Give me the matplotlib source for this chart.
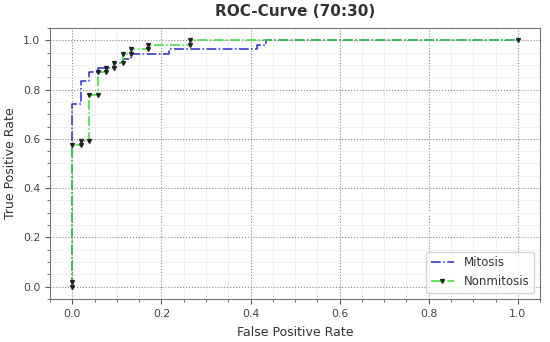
import matplotlib
matplotlib.use("Agg")
import matplotlib.pyplot as plt

# Mitosis ROC points
fpr_mit = [0, 0, 0.019, 0.019, 0.038, 0.038, 0.057, 0.057, 0.094, 0.094, 0.113, 0.113,
           0.132, 0.132, 0.217, 0.217, 0.415, 0.415, 0.434, 0.434, 1.0]
tpr_mit = [0, 0.741, 0.741, 0.833, 0.833, 0.870, 0.870, 0.889, 0.889, 0.907, 0.907, 0.926,
           0.926, 0.944, 0.944, 0.963, 0.963, 0.981, 0.981, 1.0, 1.0]

# Nonmitosis ROC points
fpr_non = [0, 0, 0, 0.019, 0.019, 0.038, 0.038, 0.057, 0.057, 0.075, 0.075, 0.094, 0.094,
           0.113, 0.113, 0.132, 0.132, 0.170, 0.170, 0.264, 0.264, 1.0]
tpr_non = [0, 0.019, 0.574, 0.574, 0.593, 0.593, 0.778, 0.778, 0.870, 0.870, 0.889, 0.889,
           0.907, 0.907, 0.944, 0.944, 0.963, 0.963, 0.981, 0.981, 1.0, 1.0]

fig = plt.figure(figsize=(5.5, 3.42), dpi=100)
ax = fig.add_axes([0.091, 0.126, 0.891, 0.792])

ax.plot(fpr_mit, tpr_mit, color="#2b2bcf", linestyle="-.", linewidth=1.1, label="Mitosis")
ax.plot(fpr_non, tpr_non, color="#33e033", linestyle="-.", linewidth=1.1,
        marker="v", markersize=2.8, markerfacecolor="#222222", markeredgecolor="#222222",
        label="Nonmitosis")

ax.minorticks_on()
ax.grid(which="major", linestyle=":", color="#888888", linewidth=0.8)
ax.grid(which="minor", linestyle="-", color="#eeeeee", linewidth=0.6)
ax.set_axisbelow(True)

for s in ax.spines.values():
    s.set_color("#777777")
ax.tick_params(which="both", colors="#555555", labelsize=7.8)
ax.tick_params(which="major", labelcolor="#444444")

ax.set_xlabel("False Positive Rate", fontsize=9, color="#333333")
ax.set_ylabel("True Positive Rate", fontsize=9, color="#333333")
ax.xaxis.set_label_coords(0.5, -0.1)
ax.yaxis.set_label_coords(-0.068, 0.5)
ax.set_title("ROC-Curve (70:30)", fontsize=11, fontweight="bold", color="#333333", pad=9)

leg = ax.legend(loc="lower right", fontsize=8.5, labelcolor="#333333")

fig.savefig("out.png", dpi=100)
